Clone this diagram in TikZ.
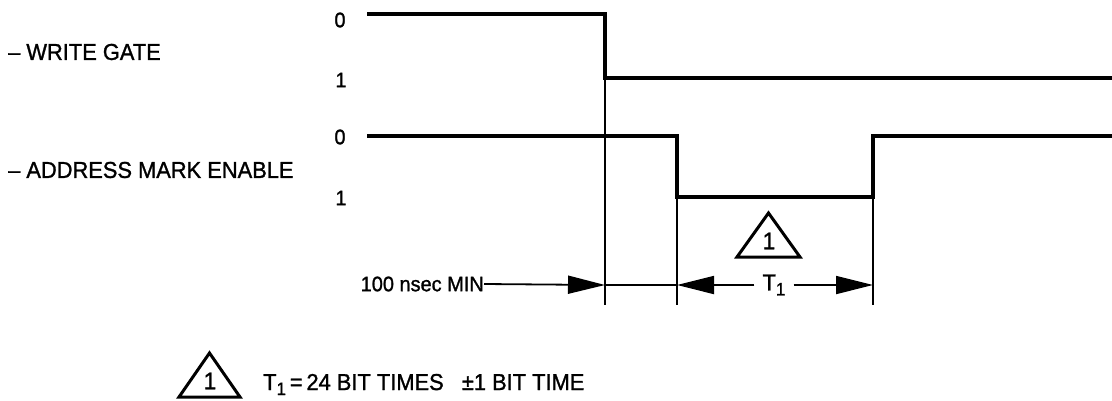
\documentclass[tikz,border=0pt]{standalone}
\usepackage{fontspec}
\setmainfont{Liberation Sans}[FakeStretch=0.95,FakeBold=1.2]
\usetikzlibrary{arrows.meta}
\begin{document}
\begin{tikzpicture}[x=1pt,y=-1pt,
  lbl/.style={inner sep=0pt,font=\fontsize{23}{25}\selectfont},
  dig/.style={inner sep=0pt,font=\fontsize{21}{23}\selectfont},
  big/.style={inner sep=0pt,font=\fontsize{24}{26}\selectfont},
  sig/.style={line width=4pt,line join=miter},
  guide/.style={line width=1.8pt},
  dim/.style={line width=1.8pt,-{Triangle[length=37pt,width=18pt]}},
  tri/.style={line width=3pt,line join=miter}]
\useasboundingbox (0,0) rectangle (1112,400);
% labels
\node[lbl,anchor=west] (wg) at (8,52) {– WRITE GATE};
\node[lbl,anchor=west] (ame) at (8,170) {– ADDRESS MARK ENABLE};
\node[dig] (wg0) at (340,20) {0};
\node[dig] (wg1) at (341,80) {1};
\node[dig] (am0) at (340,137) {0};
\node[dig] (am1) at (341,198) {1};
% signals
\draw[sig] (367,14) -- (605,14) -- (605,78) -- (1112,78);
\draw[sig] (367,136) -- (677,136) -- (677,197) -- (873,197) -- (873,136) -- (1112,136);
% guides
\coordinate (g1t) at (605,80); \coordinate (g1b) at (605,305);
\coordinate (g2t) at (677,199); \coordinate (g2b) at (677,305);
\coordinate (g3t) at (873,199); \coordinate (g3b) at (873,305);
\draw[guide] (g1t) -- (g1b);
\draw[guide] (g2t) -- (g2b);
\draw[guide] (g3t) -- (g3b);
% dimension row
\coordinate (a1) at (605,285);
\coordinate (a2) at (677,285);
\coordinate (a3) at (873,285);
\node[dig,anchor=east] (min) at (484,284) {100 nsec MIN};
\node[lbl] (t1) at (774,285) {T\raisebox{-5pt}{\fontsize{18}{18}\selectfont 1}};
\draw[dim] (min.east) -- (a1);
\draw[guide] (a1) -- (a2);
\draw[dim] ([xshift=-8pt]t1.west) -- (a2);
\draw[dim] ([xshift=8pt]t1.east) -- (a3);
% triangle notes
\draw[tri] (737,257) -- (800,257) -- (768.5,213) -- cycle;
\node[big] (n1) at (769,241) {1};
\draw[tri] (179,397) -- (240,397) -- (209.5,353) -- cycle;
\node[big] (n2) at (210,381) {1};
\node[lbl,anchor=base west] (note) at (263,390) {T\raisebox{-5pt}{\fontsize{18}{18}\selectfont 1}\,=\,24 BIT TIMES \ \ ±1 BIT TIME};
\end{tikzpicture}
\end{document}
